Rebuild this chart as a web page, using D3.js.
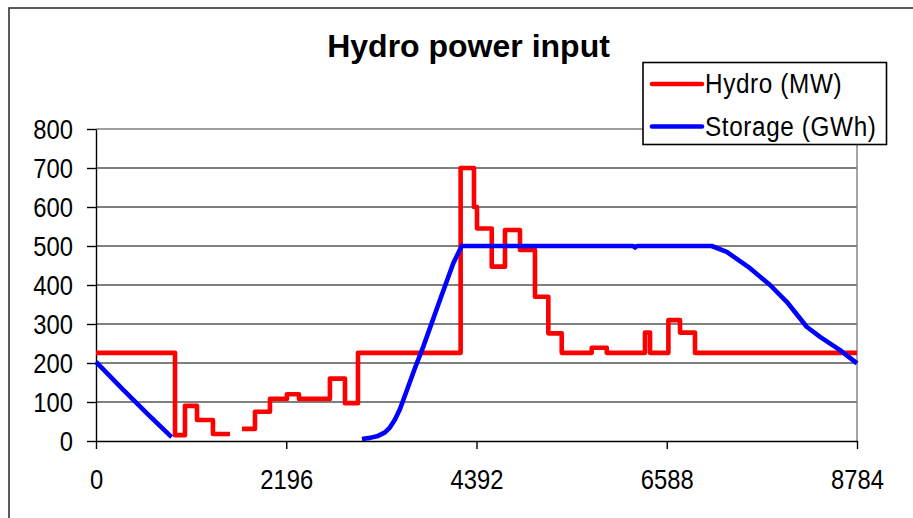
<!DOCTYPE html>
<html>
<head>
<meta charset="utf-8">
<script src="https://cdn.jsdelivr.net/npm/d3@7"></script>
<style>
  html, body { margin: 0; padding: 0; background: #fff; }
  svg { display: block; }
  text { font-family: "Liberation Sans", Arial, sans-serif; fill: #000; }
</style>
</head>
<body>
<svg id="chart" width="913" height="518"></svg>
<script>
// Hourly hydro output (MW): each value holds from its hour until the next hour
const hydroHour = [0, 912, 1027, 1166, 1350, 1547, 1548, 1685, 1835, 2008, 2204, 2343, 2700, 2874, 3024,
  4209, 4363, 4398, 4568, 4721, 4894, 5067, 5221, 5376, 5722, 5895, 6337, 6395, 6607, 6741, 6914, 8784];
const hydroMW = [226, 15, 90, 54, 18, 18, null, 31, 75, 108, 120, 108, 160, 97, 226,
  700, 600, 545, 447, 541, 490, 370, 276, 226, 239, 226, 278, 226, 310, 278, 226, 226];

// Reservoir storage (GWh); empty stretch while the reservoir is drained
const storageHour = [0, 315, 600, 873, 874, 3070, 3163, 3255, 3336, 3394, 3451, 3509, 3601, 3682, 3778,
  3971, 4124, 4221, 6200, 6222, 6245, 7107, 7280, 7549, 7780, 7973, 8203, 8357, 8588, 8784];
const storageGWh = [203, 131, 68, 10, null, 5, 8, 13, 22, 35, 55, 82, 138, 187, 242,
  362, 456, 500, 500, 496, 500, 500, 485, 443, 400, 357, 293, 267, 233, 199];

const xTicks = [0, 2196, 4392, 6588, 8784];
const yTicks = [0, 100, 200, 300, 400, 500, 600, 700, 800];

const seriesNames = ["Hydro (MW)", "Storage (GWh)"];
const seriesColors = ["#ff0000", "#0000ff"];

const svg = d3.select("#chart");

const plotLeft = 96, plotRight = 857, plotTop = 129, plotBottom = 441;
const x = d3.scaleLinear().domain([0, 8784]).range([plotLeft, plotRight]);
const y = d3.scaleLinear().domain([0, 800]).range([plotBottom, plotTop]);

// outer chart frame
svg.append("rect")
  .attr("x", 9).attr("y", 8).attr("width", 1200).attr("height", 1200)
  .attr("fill", "none").attr("stroke", "#333").attr("stroke-width", 1.6);

// title
svg.append("text")
  .attr("x", 468.5).attr("y", 57)
  .attr("text-anchor", "middle")
  .style("font-size", "32px").style("font-weight", "bold")
  .text("Hydro power input");

// horizontal gridlines
svg.append("g").selectAll("line")
  .data(yTicks.filter(v => v > 0 && v < 800))
  .join("line")
  .attr("x1", plotLeft).attr("x2", plotRight)
  .attr("y1", d => y(d)).attr("y2", d => y(d))
  .attr("stroke", "#000").attr("stroke-width", 1.2);

// plot area border (top and right)
svg.append("path")
  .attr("d", `M${plotLeft},${y(800)}H${plotRight}V${plotBottom}`)
  .attr("fill", "none").attr("stroke", "#808080").attr("stroke-width", 1.4);

const labelScale = 0.88;

// y axis
const yAxis = svg.append("g")
  .attr("transform", `translate(${plotLeft},0)`)
  .call(d3.axisLeft(y).tickValues(yTicks).tickSize(9).tickSizeOuter(0).tickFormat(d3.format("d")));
yAxis.select(".domain").attr("stroke", "#000").attr("stroke-width", 1.4);
yAxis.selectAll(".tick line").attr("stroke", "#000").attr("stroke-width", 1.4);
yAxis.selectAll(".tick text")
  .attr("x", null).attr("dy", null)
  .attr("dominant-baseline", "central")
  .attr("transform", `translate(-23,0) scale(${labelScale},1)`)
  .style("font-size", "27px").style("font-family", "'Liberation Sans', Arial, sans-serif")
  .attr("fill", "#000");

// x axis
const xAxis = svg.append("g")
  .attr("transform", `translate(0,${plotBottom})`)
  .call(d3.axisBottom(x).tickValues(xTicks).tickSize(8).tickSizeOuter(0).tickFormat(d3.format("d")));
xAxis.select(".domain").attr("stroke", "#000").attr("stroke-width", 1.4);
xAxis.selectAll(".tick line").attr("stroke", "#000").attr("stroke-width", 1.4);
xAxis.selectAll(".tick text")
  .attr("y", null).attr("dy", null)
  .attr("transform", `translate(0,48) scale(${labelScale},1)`)
  .style("font-size", "27px").style("font-family", "'Liberation Sans', Arial, sans-serif")
  .attr("fill", "#000");

// series
const hydroData = hydroHour.map((h, i) => ({ h, v: hydroMW[i] }));
const storageData = storageHour.map((h, i) => ({ h, v: storageGWh[i] }));

const stepLine = d3.line()
  .defined(d => d.v !== null)
  .x(d => x(d.h)).y(d => y(d.v))
  .curve(d3.curveStepAfter);

const smoothLine = d3.line()
  .defined(d => d.v !== null)
  .x(d => x(d.h)).y(d => y(d.v));

svg.append("path")
  .datum(hydroData)
  .attr("d", stepLine)
  .attr("fill", "none").attr("stroke", seriesColors[0])
  .attr("stroke-width", 4.6).attr("stroke-linejoin", "round");

svg.append("path")
  .datum(storageData)
  .attr("d", smoothLine)
  .attr("fill", "none").attr("stroke", seriesColors[1])
  .attr("stroke-width", 4.6).attr("stroke-linejoin", "round");

// legend
const legend = svg.append("g");
legend.append("rect")
  .attr("x", 643).attr("y", 62.5).attr("width", 243.5).attr("height", 82)
  .attr("fill", "#fff").attr("stroke", "#000").attr("stroke-width", 1.6);
const rows = [84, 126.5];
seriesNames.forEach((name, i) => {
  legend.append("line")
    .attr("x1", 652).attr("x2", 702)
    .attr("y1", rows[i]).attr("y2", rows[i])
    .attr("stroke", seriesColors[i]).attr("stroke-width", 4.6).attr("stroke-linecap", "round");
  legend.append("text")
    .attr("transform", `translate(705,${rows[i] + 9}) scale(0.9,1)`)
    .style("font-size", "27px").style("letter-spacing", "0.7px")
    .text(name);
});
</script>
</body>
</html>
